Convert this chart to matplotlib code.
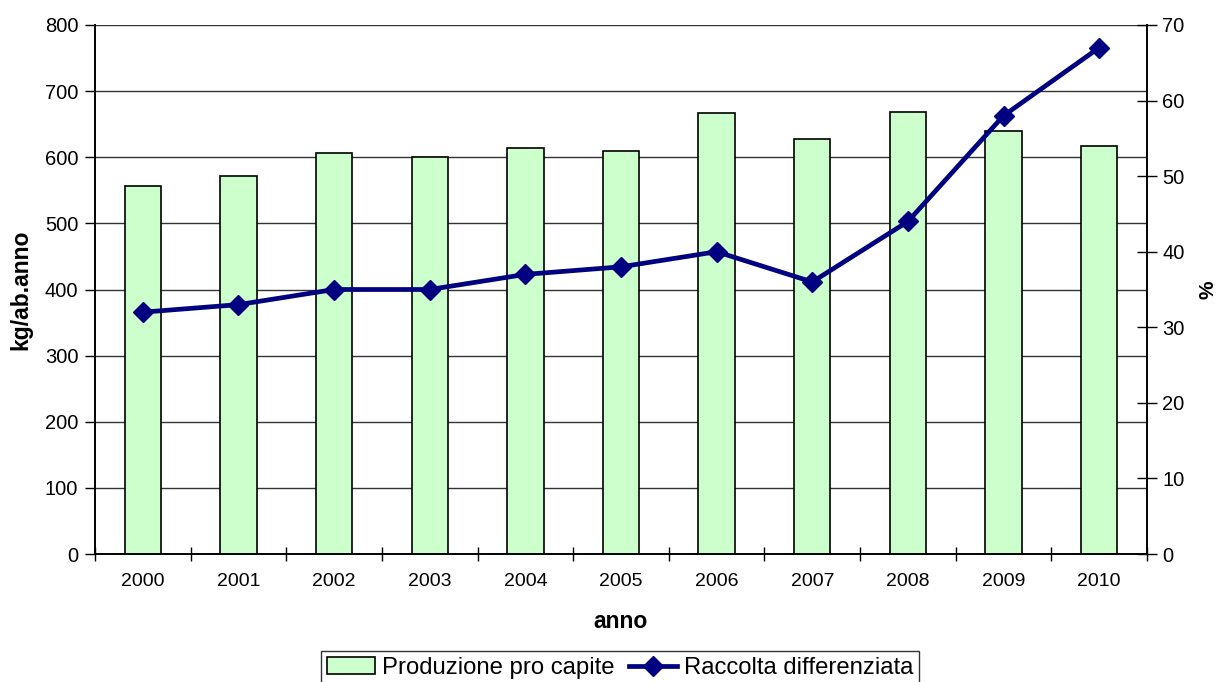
import matplotlib
matplotlib.use("Agg")
import matplotlib.pyplot as plt
from matplotlib.lines import Line2D
from matplotlib.patches import Patch

plt.rcParams['font.family'] = ['Liberation Sans', 'DejaVu Sans']

years = ['2000', '2001', '2002', '2003', '2004', '2005', '2006', '2007', '2008', '2009', '2010']
produzione = [556, 572, 607, 601, 614, 609, 667, 628, 669, 640, 617]
raccolta = [32, 33, 35, 35, 37, 38, 40, 36, 44, 58, 67]

W, H = 1218, 682
fig = plt.figure(figsize=(W / 100, H / 100), dpi=100)
ax = fig.add_axes([95 / W, 1 - 554 / H, (1147 - 95) / W, (554 - 25) / H])
ax2 = ax.twinx()

x = list(range(len(years)))
ax.bar(x, produzione, width=0.38, color='#CCFFCC', edgecolor='black', linewidth=1.2, zorder=3)
ax.set_xlim(-0.5, len(years) - 0.5)
ax.set_ylim(0, 800)
ax.set_yticks(range(0, 801, 100))
ax.yaxis.grid(True, color='#333333', linewidth=1.0, zorder=0)
ax.set_axisbelow(True)
ax.set_xticks([i - 0.5 for i in range(len(years) + 1)], minor=False)
ax.set_xticklabels([])
ax.set_xticks(x, minor=True)
ax.set_xticklabels(years, minor=True, fontsize=14)
ax.tick_params(axis='x', which='major', direction='inout', length=10, width=1, color='black')
ax.tick_params(axis='x', which='minor', length=0, pad=14)
ax.tick_params(axis='y', direction='out', length=7, width=1, labelsize=14.5, pad=5)

ax2.plot(x, raccolta, color='#000080', linewidth=3.4, marker='D', markersize=10.5, zorder=5)
ax2.set_ylim(0, 70)
ax2.set_yticks(range(0, 71, 10))
ax2.tick_params(axis='y', direction='inout', length=14, width=1, labelsize=14.5, pad=4)

for a in (ax, ax2):
    a.spines['top'].set_visible(False)
    for s in ('left', 'right', 'bottom'):
        a.spines[s].set_color('black')
        a.spines[s].set_linewidth(1.2)

ax.set_ylabel('kg/ab.anno', fontsize=16.5, fontweight='bold')
ax.yaxis.set_label_coords(-0.060, 0.5)
ax2.set_ylabel('%', fontsize=15, fontweight='bold')
ax2.yaxis.set_label_coords(1.049, 0.5)
ax.set_xlabel('anno', fontsize=16.5, fontweight='bold')
ax.xaxis.set_label_coords(0.5, -0.106)

handles = [Patch(facecolor='#CCFFCC', edgecolor='black', linewidth=1.2),
           Line2D([0], [0], color='#000080', linewidth=3.4, marker='D', markersize=10)]
leg = fig.legend(handles, ['Produzione pro capite', 'Raccolta differenziata'],
                 loc='upper center', bbox_to_anchor=(620 / W, 1 - 651 / H), ncol=2,
                 fontsize=17.2, frameon=True, fancybox=False, edgecolor='black',
                 handlelength=2.0, handletextpad=0.3, columnspacing=0.6,
                 borderpad=0.25, borderaxespad=0)
leg.get_frame().set_linewidth(1.0)

fig.savefig('out.png', dpi=100)
